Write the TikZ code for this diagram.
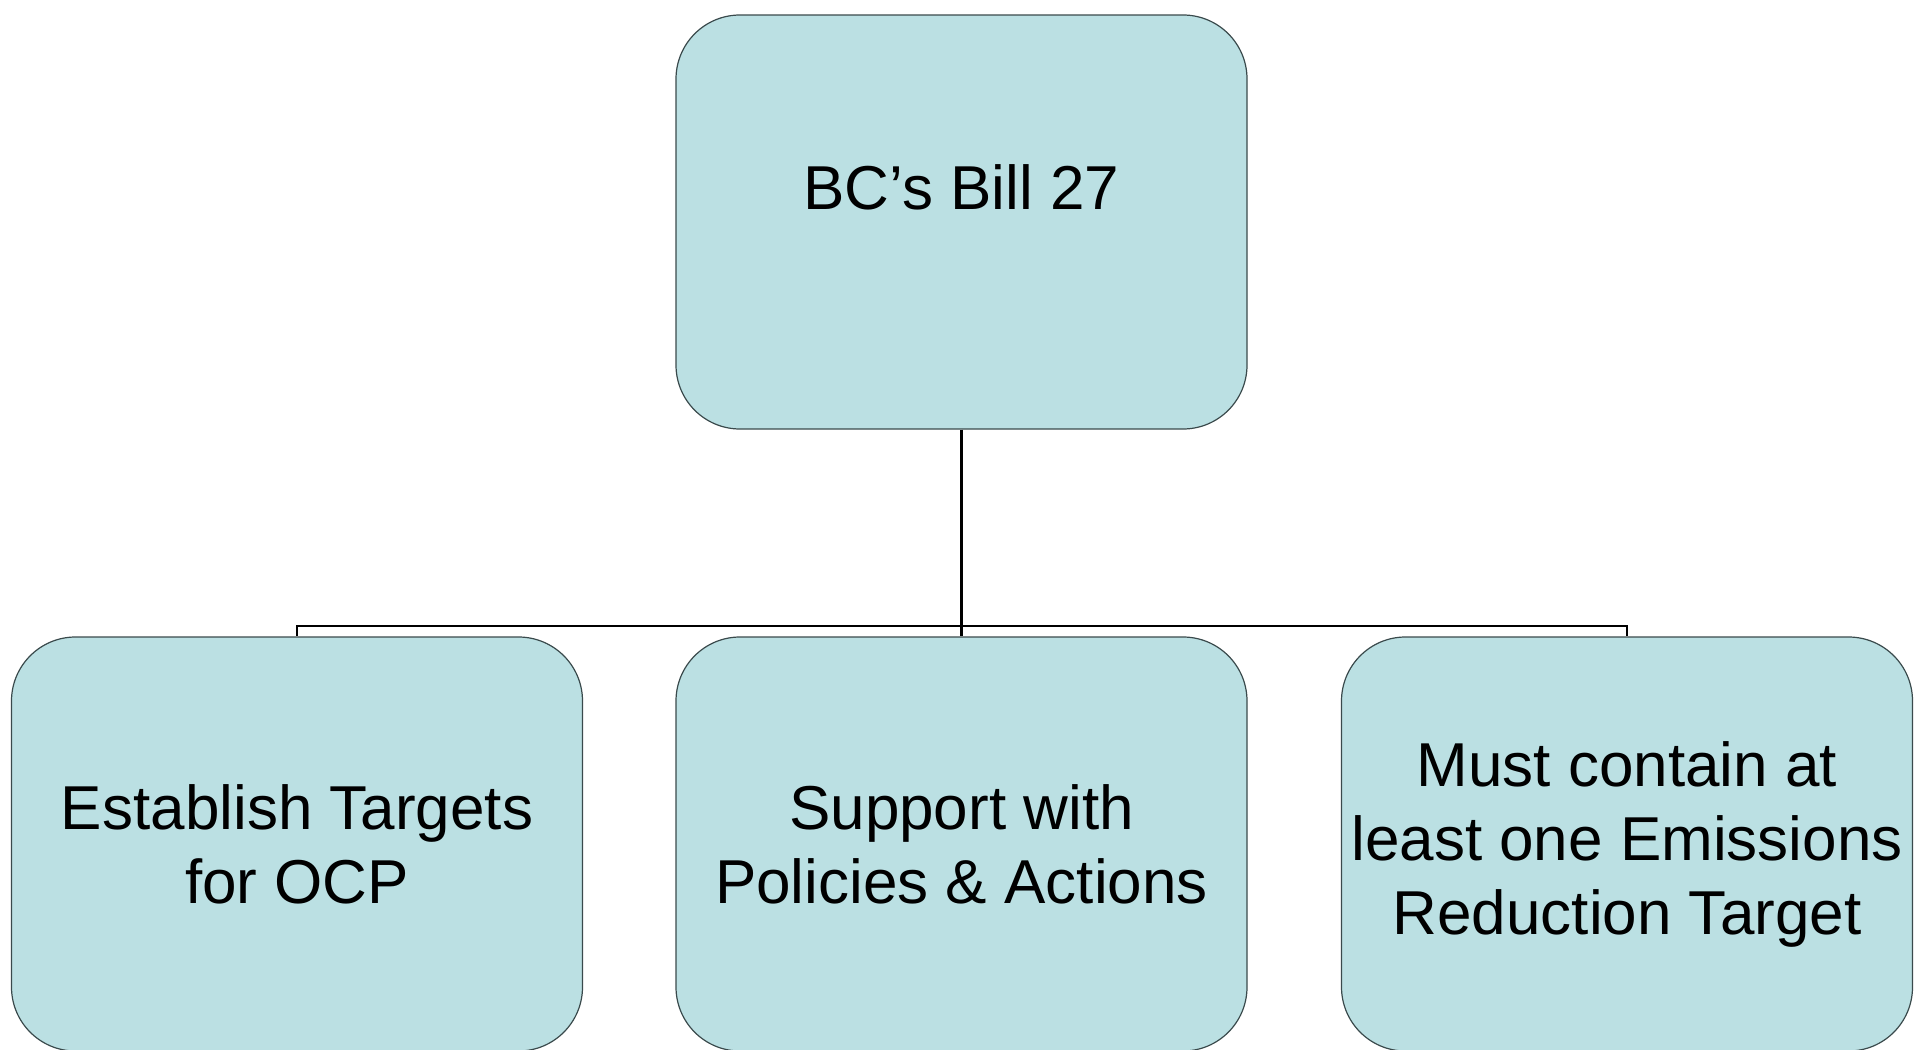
\documentclass[tikz,border=0pt]{standalone}
\usepackage{fontspec}
\setmainfont{Liberation Sans}
\definecolor{boxfill}{HTML}{BBE0E3}
\definecolor{boxline}{HTML}{3A4A4C}
\begin{document}
\begin{tikzpicture}[x=0.5pt,y=-0.5pt,
  card/.style={draw=boxline, fill=boxfill, line width=0.6pt, rounded corners=32pt,
    minimum width=285.5pt, minimum height=207pt, inner sep=0pt, align=center,
    font=\fontsize{31}{37}\selectfont},
  link/.style={draw=black, line width=1.3pt}]
\useasboundingbox (0,0) rectangle (1932,1049);
\begin{scope}
\clip (0,0) rectangle (1932,1049);
\node[card, text depth=35pt] (top) at (961.5,222) {BC’s Bill 27};
\node[card] (b1) at (297,844) {Establish Targets\\for OCP};
\node[card] (b2) at (961.5,844) {Support with\\Policies \& Actions};
\node[card] (b3) at (1627,844) {Must contain at\\least one Emissions\\Reduction Target};
\coordinate (j) at (961.5,626);
\draw[link] (top.south) -- (j);
\draw[link] (j) -| (b1.north);
\draw[link] (j) -| (b3.north);
\draw[link] (j) -- (b2.north);
\end{scope}
\end{tikzpicture}
\end{document}
